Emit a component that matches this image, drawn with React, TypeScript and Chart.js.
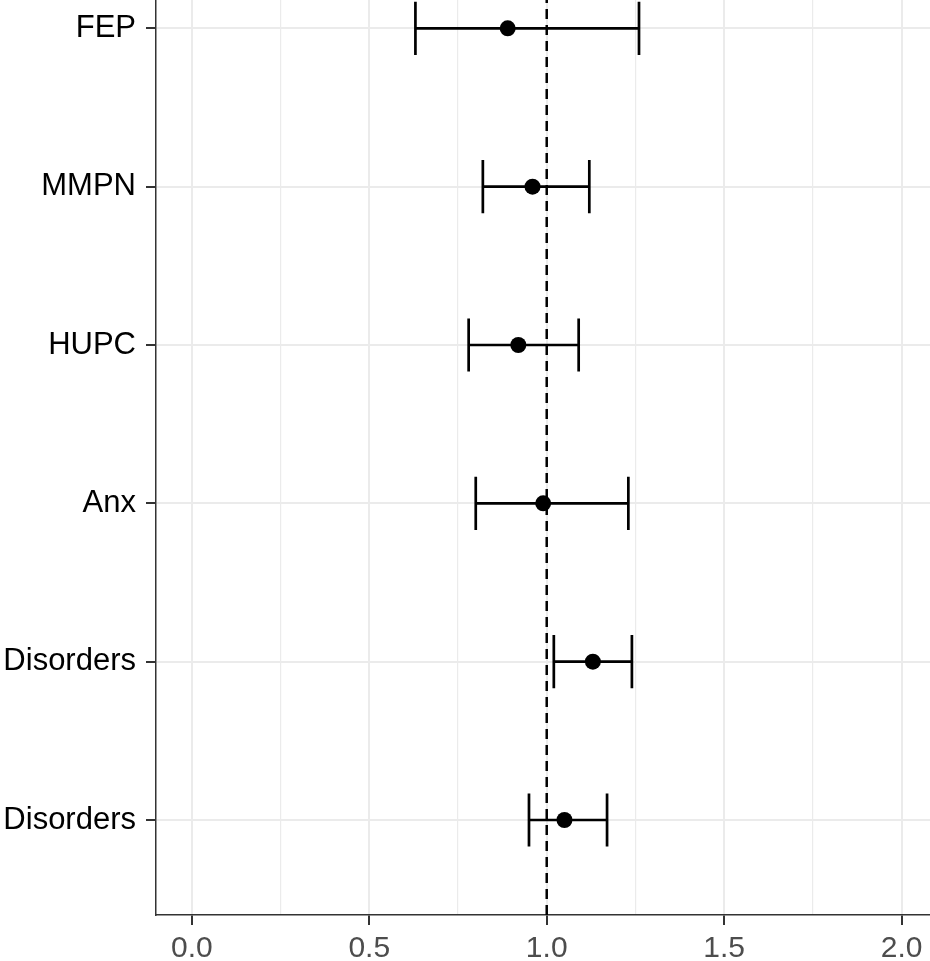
import React, { useEffect, useRef } from "react";
import { Chart, registerables } from "chart.js";

Chart.register(...registerables);

// Rows, top to bottom
const rowLabels = ["FEP", "MMPN", "HUPC", "Anx", "Disorders", "Disorders"];
const estimates = [0.89, 0.96, 0.92, 0.99, 1.13, 1.05];
const lowerCI = [0.63, 0.82, 0.78, 0.80, 1.02, 0.95];
const upperCI = [1.26, 1.12, 1.09, 1.23, 1.24, 1.17];
const xMajorTicks = [0, 0.5, 1, 1.5, 2];
const xMinorTicks = [0.25, 0.75, 1.25, 1.75];
const referenceValue = 1;

const FONT = '"Liberation Sans", Arial, Helvetica, sans-serif';

export default function App() {
  const canvasRef = useRef<HTMLCanvasElement | null>(null);

  useEffect(() => {
    const canvas = canvasRef.current;
    if (!canvas) return;
    const n = rowLabels.length;
    const rowY = (i: number) => n - i;

    const forestPlugin = {
      id: "forestBars",
      beforeDatasetsDraw(chart: any) {
        const { ctx, scales, chartArea } = chart;
        const xs = scales.x;
        const ys = scales.y;
        ctx.save();
        // reference dashed line
        const rx = xs.getPixelForValue(referenceValue);
        ctx.strokeStyle = "#000";
        ctx.lineWidth = 2.5;
        ctx.setLineDash([10, 6]);
        ctx.beginPath();
        ctx.moveTo(rx, chartArea.bottom);
        ctx.lineTo(rx, chartArea.top);
        ctx.stroke();
        ctx.setLineDash([]);
        // error bars
        ctx.lineWidth = 2.7;
        ctx.lineCap = "butt";
        const capHalf = 0.168;
        for (let i = 0; i < n; i++) {
          const yv = rowY(i);
          const y = ys.getPixelForValue(yv);
          const yTop = ys.getPixelForValue(yv + capHalf);
          const yBot = ys.getPixelForValue(yv - capHalf);
          const xl = xs.getPixelForValue(lowerCI[i]);
          const xh = xs.getPixelForValue(upperCI[i]);
          ctx.beginPath();
          ctx.moveTo(xl, y);
          ctx.lineTo(xh, y);
          ctx.moveTo(xl, yTop);
          ctx.lineTo(xl, yBot);
          ctx.moveTo(xh, yTop);
          ctx.lineTo(xh, yBot);
          ctx.stroke();
        }
        ctx.restore();
      },
    };

    const allXTicks = [...xMajorTicks, ...xMinorTicks].sort((a, b) => a - b);
    const isMajor = (v: number) => xMajorTicks.some((m) => Math.abs(m - v) < 1e-9);

    const chart = new Chart(canvas, {
      type: "scatter",
      data: {
        datasets: [
          {
            data: estimates.map((e, i) => ({ x: e, y: rowY(i) })),
            pointRadius: 8,
            pointHoverRadius: 8,
            backgroundColor: "#000",
            borderWidth: 0,
            clip: false,
          },
        ],
      },
      options: {
        animation: false,
        responsive: false,
        events: [],
        layout: { padding: 0, autoPadding: false },
        plugins: {
          legend: { display: false },
          tooltip: { enabled: false },
        },
        scales: {
          x: {
            type: "linear",
            min: -0.101,
            max: 2.08,
            afterBuildTicks: (scale: any) => {
              scale.ticks = allXTicks.map((v) => ({ value: v }));
            },
            afterFit: (scale: any) => {
              scale.height = 46;
              scale.paddingLeft = 0;
              scale.paddingRight = 0;
              scale.paddingTop = 0;
              scale.paddingBottom = 0;
            },
            grid: {
              color: "#EBEBEB",
              lineWidth: (c: any) => (c.tick && isMajor(c.tick.value) ? 2 : 1.2),
              drawTicks: true,
              tickLength: 10,
              tickWidth: 2,
              tickColor: (c: any) => (c.tick && isMajor(c.tick.value) ? "#333333" : "rgba(0,0,0,0)"),
            },
            border: { display: true, color: "#333333", width: 1.5 },
            ticks: {
              autoSkip: false,
              maxRotation: 0,
              padding: 6,
              color: "#4D4D4D",
              font: { family: FONT, size: 30 },
              callback: (v: any) => (isMajor(Number(v)) ? Number(v).toFixed(1) : ""),
            },
          },
          y: {
            type: "linear",
            min: 0.4,
            max: 6.179,
            afterBuildTicks: (scale: any) => {
              scale.ticks = rowLabels.map((_, i) => ({ value: rowY(i) }));
            },
            afterFit: (scale: any) => {
              scale.width = 156;
              scale.paddingLeft = 0;
              scale.paddingRight = 0;
              scale.paddingTop = 0;
              scale.paddingBottom = 0;
            },
            grid: {
              color: "#EBEBEB",
              lineWidth: 2,
              drawTicks: true,
              tickLength: 10,
              tickWidth: 2,
              tickColor: "#333333",
            },
            border: { display: true, color: "#333333", width: 1.5 },
            ticks: {
              autoSkip: false,
              padding: 10,
              color: "#000000",
              font: { family: FONT, size: 31 },
              callback: (v: any) => rowLabels[n - Number(v)] ?? "",
            },
          },
        },
      },
      plugins: [forestPlugin],
    } as any);

    return () => chart.destroy();
  }, []);

  return (
    <div style={{ position: "fixed", left: 0, top: 0, width: 930, height: 961, background: "#fff" }}>
      <canvas ref={canvasRef} width={930} height={961} style={{ display: "block" }} />
    </div>
  );
}
